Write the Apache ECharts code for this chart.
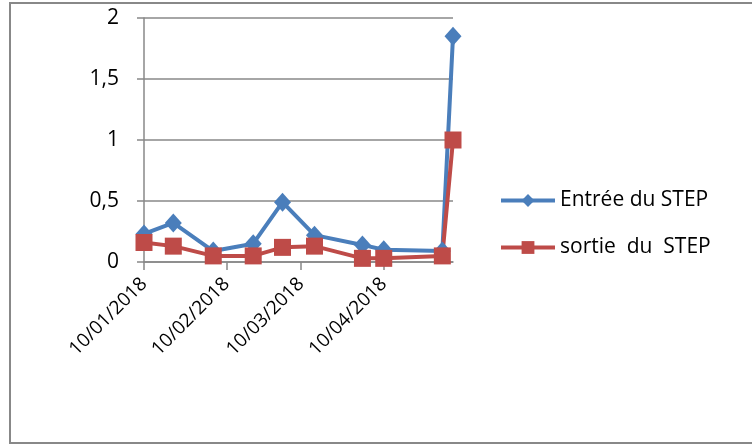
<!DOCTYPE html>
<html>
<head>
<meta charset="utf-8">
<script src="https://cdn.jsdelivr.net/npm/echarts@6/dist/echarts.min.js"></script>
<style>
  html, body { margin: 0; padding: 0; background: #fff; }
  #chart { width: 752px; height: 445px; }
</style>
</head>
<body>
<div id="chart"></div>
<script>
// measurement dates (yyyy-mm-dd)
const dates = ['2018-01-10', '2018-01-21', '2018-02-05', '2018-02-20', '2018-03-03',
  '2018-03-15', '2018-04-02', '2018-04-10', '2018-05-02', '2018-05-06'];
const entree = [0.23, 0.32, 0.09, 0.15, 0.49, 0.22, 0.14, 0.1, 0.09, 1.85];
const sortie = [0.16, 0.13, 0.05, 0.05, 0.12, 0.13, 0.03, 0.03, 0.05, 1.0];
const tickDates = ['2018-01-10', '2018-02-10', '2018-03-10', '2018-04-10'];
const tickLabels = ['10/01/2018', '10/02/2018', '10/03/2018', '10/04/2018'];

const toTs = (d) => {
  const [y, m, day] = d.split('-').map(Number);
  return Date.UTC(y, m - 1, day);
};
const xs = dates.map(toTs);
const ticks = tickDates.map(toTs);

const blue = '#4A7EBB';
const red = '#BE4B48';
const gray = '#888888';
const font = 'Open Sans';

const chart = echarts.init(document.getElementById('chart'));
chart.setOption({
  animation: false,
  textStyle: { fontFamily: font, color: '#000' },
  grid: { left: 144, right: 299, top: 18, bottom: 183 },
  graphic: [{
    type: 'rect',
    shape: { x: 10, y: 3, width: 800, height: 440 },
    style: { fill: 'none', stroke: gray, lineWidth: 2 },
    silent: true,
  }],
  legend: {
    orient: 'vertical',
    left: 499,
    top: 188,
    padding: 0,
    itemWidth: 54,
    itemHeight: 16,
    itemGap: 22,
    lineStyle: { width: 4 },
    textStyle: { fontSize: 21, lineHeight: 25, color: '#000', fontFamily: font },
    data: ['Entrée du STEP', 'sortie  du  STEP'],
  },
  xAxis: {
    type: 'value',
    min: xs[0],
    max: xs[xs.length - 1],
    axisLine: { lineStyle: { color: gray, width: 1.5 } },
    axisTick: { show: true, length: 8, customValues: ticks, lineStyle: { color: gray, width: 1.5 } },
    splitLine: { show: false },
    axisLabel: {
      customValues: ticks,
      rotate: 45,
      margin: 19,
      fontSize: 19,
      color: '#000',
      formatter: (v) => {
        const i = ticks.indexOf(v);
        return i >= 0 ? tickLabels[i] : '';
      },
    },
  },
  yAxis: {
    type: 'value',
    min: 0,
    max: 2,
    interval: 0.5,
    axisLine: { show: true, lineStyle: { color: gray, width: 1.5 } },
    axisTick: { show: true, length: 7, lineStyle: { color: gray, width: 1.5 } },
    splitLine: { lineStyle: { color: gray, width: 1.5 } },
    axisLabel: {
      fontSize: 21,
      color: '#000',
      margin: 25,
      formatter: (v) => String(v).replace('.', ','),
    },
  },
  series: [
    {
      name: 'Entrée du STEP',
      type: 'line',
      data: xs.map((x, i) => [x, entree[i]]),
      symbol: 'diamond',
      symbolSize: [17, 19],
      lineStyle: { color: blue, width: 4 },
      itemStyle: { color: blue },
    },
    {
      name: 'sortie  du  STEP',
      type: 'line',
      data: xs.map((x, i) => [x, sortie[i]]),
      symbol: 'rect',
      symbolSize: 17,
      lineStyle: { color: red, width: 4 },
      itemStyle: { color: red },
    },
  ],
});
</script>
</body>
</html>
